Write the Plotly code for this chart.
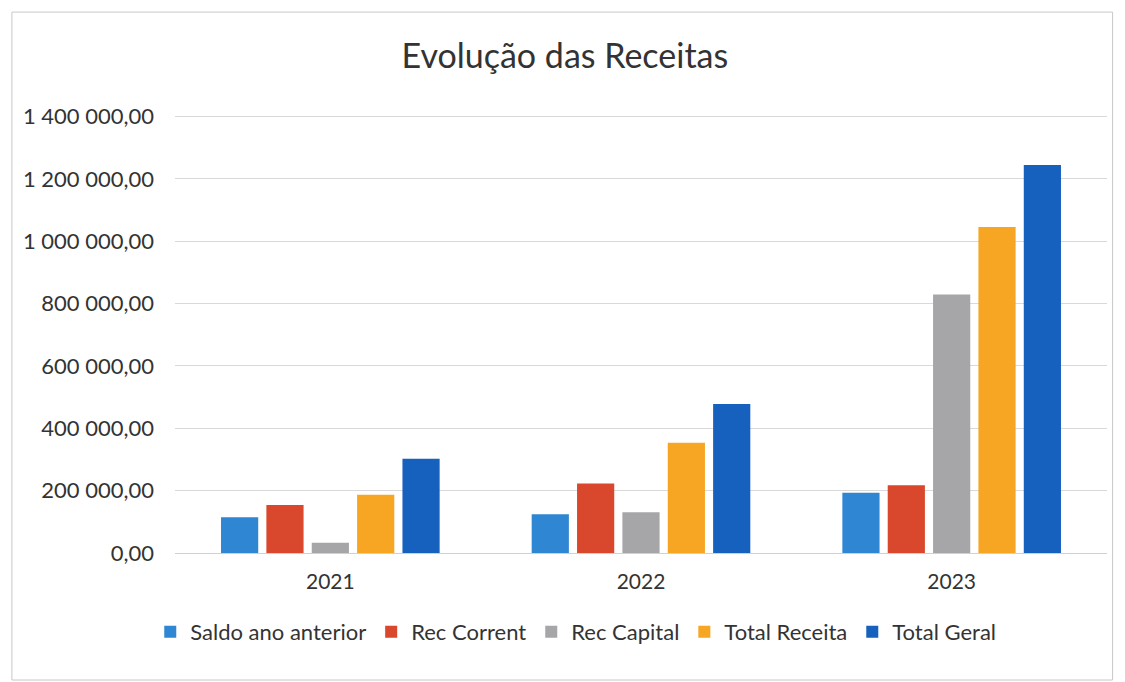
import plotly.graph_objects as go

years = ["2021", "2022", "2023"]
saldo_ano_anterior = [115000, 124000, 193000]
rec_corrent = [154000, 223000, 217000]
rec_capital = [33000, 131000, 829000]
total_receita = [187000, 354000, 1046000]
total_geral = [302000, 478000, 1245000]

series_names = ["Saldo ano anterior", "Rec Corrent", "Rec Capital", "Total Receita", "Total Geral"]
series_values = [saldo_ano_anterior, rec_corrent, rec_capital, total_receita, total_geral]
colors = ["#2F86D2", "#D9472C", "#A6A6A8", "#F6A623", "#1660BE"]

tick_vals = [0, 200000, 400000, 600000, 800000, 1000000, 1200000, 1400000]
tick_text = ["0,00", "200 000,00", "400 000,00", "600 000,00", "800 000,00",
             "1 000 000,00", "1 200 000,00", "1 400 000,00"]

fig = go.Figure()
for name, vals, col in zip(series_names, series_values, colors):
    fig.add_trace(go.Bar(x=years, y=vals, name=name, marker=dict(color=col, line=dict(width=0))))

fig.update_layout(
    width=1125, height=682,
    paper_bgcolor="white", plot_bgcolor="white",
    margin=dict(l=167, r=26, t=107, b=137),
    barmode="group", bargap=0.27, bargroupgap=0.18,
    font=dict(family="Lato, Open Sans, sans-serif", color="#3a3a3a"),
    title=dict(text="Evolução das Receitas", x=0.495, xanchor="center", y=0.93, yanchor="middle",
               font=dict(size=34, color="#333333", family="Lato, Open Sans, sans-serif")),
    legend=dict(orientation="h", x=0.43, xanchor="center", y=-0.18, yanchor="middle",
                font=dict(size=22, color="#333333"), itemwidth=30, traceorder="normal"),
    xaxis=dict(showgrid=False, showline=False, ticks="", tickfont=dict(size=21, color="#333333"),
               ticklabelstandoff=14),
    yaxis=dict(range=[0, 1405000], tickvals=tick_vals, ticktext=tick_text,
               showgrid=True, gridcolor="#d9d9d9", gridwidth=1, zeroline=True,
               zerolinecolor="#d0d0d0", zerolinewidth=1,
               tickfont=dict(size=22, color="#333333"), ticklen=0, ticklabelstandoff=20),
    shapes=[dict(type="rect", xref="paper", yref="paper",
                 x0=-0.175, x1=1.006, y0=-0.29, y1=1.235,
                 line=dict(color="#c8c8c8", width=1))],
)

fig.write_html("out.html")
